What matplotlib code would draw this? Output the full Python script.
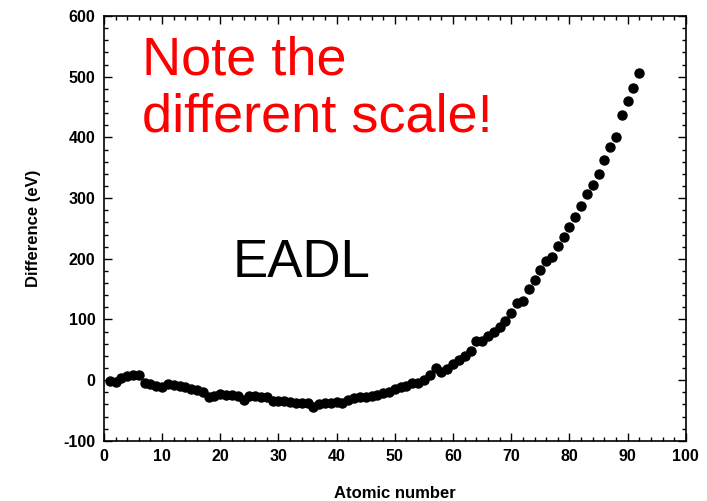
import matplotlib.pyplot as plt
import numpy as np
from matplotlib.ticker import MultipleLocator

plt.rcParams['font.family'] = ['Liberation Sans', 'DejaVu Sans']
plt.rcParams['axes.unicode_minus'] = False

# atomic number vs difference (eV)
atomic_number = list(range(1, 93))
difference = [
    -1, -3, 4, 7, 8, 8, -4, -6, -9, -12,
    -6, -8, -9, -11, -15, -16, -19, -28, -26, -22,
    -25, -25, -26, -32, -26, -26, -27, -28, -34, -35,
    -35, -36, -37, -37, -38, -45, -40, -38, -37, -36,
    -38, -33, -30, -28, -27, -26, -24, -21, -19, -15,
    -12, -9, -5, -5, 0, 8, 20, 14, 18, 26,
    33, 40, 48, 65, 65, 73, 80, 87, 98, 110,
    128, 130, 150, 165, 181, 196, 203, 221, 236, 252,
    269, 287, 306, 321, 339, 362, 384, 400, 437, 460,
    481, 506,
]

fig = plt.figure(figsize=(7.07, 5.01), dpi=100)
ax = fig.add_axes([0.147, 0.120, 0.823, 0.848])

ax.plot(atomic_number, difference, 'o', color='black', markersize=6.5, clip_on=False)

ax.set_xlim(0, 100)
ax.set_ylim(-100, 600)
ax.xaxis.set_major_locator(MultipleLocator(10))
ax.xaxis.set_minor_locator(MultipleLocator(2))
ax.yaxis.set_major_locator(MultipleLocator(100))
ax.yaxis.set_minor_locator(MultipleLocator(20))
ax.tick_params(which='both', direction='in', top=True, right=True, width=1)
ax.tick_params(which='major', length=6, labelsize=11.5, pad=6)
ax.tick_params(which='minor', length=3)
for lab in ax.get_xticklabels() + ax.get_yticklabels():
    lab.set_fontweight('bold')
for s in ax.spines.values():
    s.set_linewidth(1.2)

ax.set_xlabel('Atomic number', fontsize=12, fontweight='bold', labelpad=16)
ax.set_ylabel('Difference (eV)', fontsize=12, fontweight='bold', labelpad=16)

ax.text(0.065, 0.955, 'Note the\ndifferent scale!', transform=ax.transAxes,
        color='red', fontsize=39, va='top', ha='left', linespacing=1.2)
ax.text(0.222, 0.36, 'EADL', transform=ax.transAxes, color='black',
        fontsize=38, va='bottom', ha='left')

fig.savefig('out.png', dpi=100)
